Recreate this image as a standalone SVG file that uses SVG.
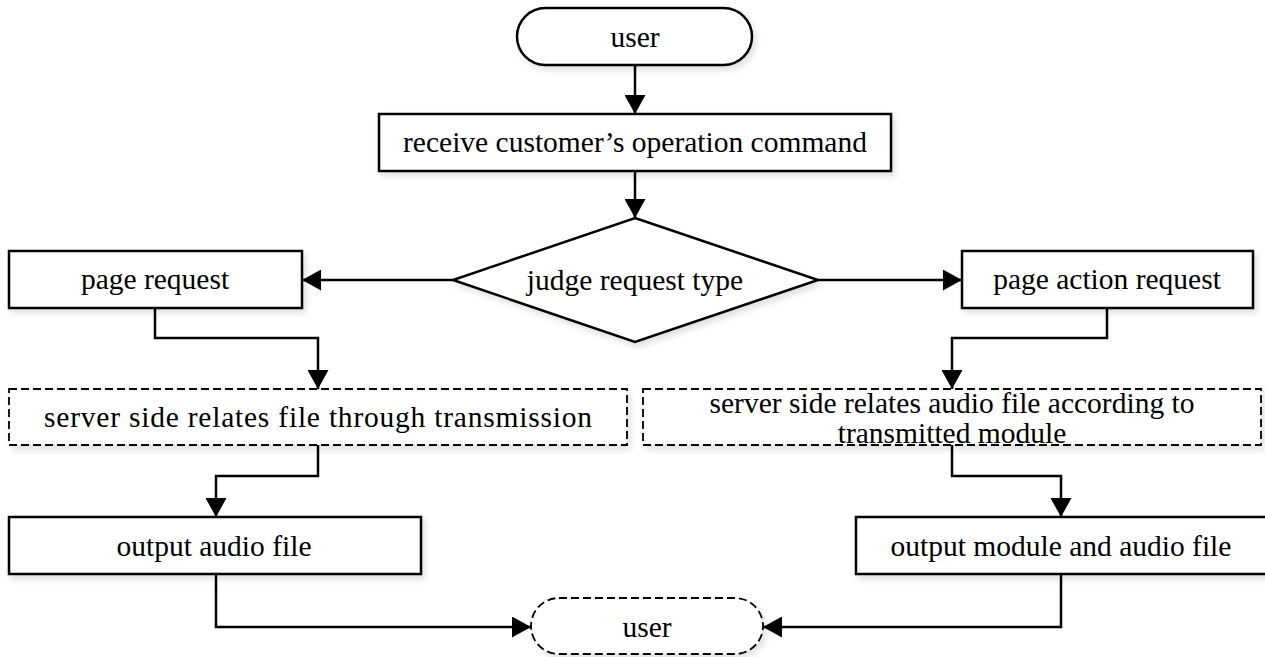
<svg xmlns="http://www.w3.org/2000/svg" width="1265" height="657" viewBox="0 0 1265 657">
<defs>
<style>
.box{fill:#fff;stroke:#000;stroke-width:2.5;filter:url(#sh)}
.dash{fill:#fff;stroke:#000;stroke-width:1.8;stroke-dasharray:8 4;filter:url(#sh)}
.t{font-family:"Liberation Serif","Times New Roman",serif;font-size:29.5px;fill:#000;text-anchor:middle;dominant-baseline:central}
.c{fill:none;stroke:#000;stroke-width:2.5;marker-end:url(#ah)}
</style>
<filter id="sh" x="-5%" y="-20%" width="115%" height="150%">
<feDropShadow dx="3" dy="4" stdDeviation="3" flood-color="#000" flood-opacity="0.12"/>
</filter>
<marker id="ah" markerUnits="userSpaceOnUse" markerWidth="19" markerHeight="21" refX="19" refY="10.5" orient="auto">
<path d="M0,0 L19,10.5 L0,21 z" fill="#000"/>
</marker>
</defs>
<rect width="1265" height="657" fill="#fff"/>
<g id="connectors">
<path class="c" d="M635 65 V114"/>
<path class="c" d="M635 171 V218"/>
<path class="c" d="M453 280 H302"/>
<path class="c" d="M818 280 H962"/>
<path class="c" d="M155 308 V338 H318 V389"/>
<path class="c" d="M1107 308 V338 H952 V389"/>
<path class="c" d="M318 445 V476 H216 V517"/>
<path class="c" d="M952 445 V476 H1061 V517"/>
<path class="c" d="M216 574 V627 H531"/>
<path class="c" d="M1061 574 V627 H763"/>
</g>
<g id="user-top">
<rect class="box" x="517" y="8" width="235" height="57" rx="28.5"/>
<text class="t" x="635" y="37">user</text>
</g>
<g id="receive">
<rect class="box" x="379" y="114" width="512" height="57"/>
<text class="t" x="635" y="142">receive customer’s operation command</text>
</g>
<g id="judge">
<polygon class="box" points="635,218 818,280 635,342 453,280"/>
<text class="t" x="635" y="280">judge request type</text>
</g>
<g id="page-request">
<rect class="box" x="9" y="251" width="293" height="57"/>
<text class="t" x="155" y="279">page request</text>
</g>
<g id="page-action-request">
<rect class="box" x="962" y="251" width="291" height="57"/>
<text class="t" x="1107" y="279">page action request</text>
</g>
<g id="server-left">
<rect class="dash" x="9" y="389" width="618" height="56"/>
<text class="t" x="318" y="417" textLength="548" lengthAdjust="spacing">server side relates file through transmission</text>
</g>
<g id="server-right">
<rect class="dash" x="643" y="389" width="618" height="56"/>
<text class="t" x="952" y="403">server side relates audio file according to</text>
<text class="t" x="952" y="433">transmitted module</text>
</g>
<g id="output-audio">
<rect class="box" x="9" y="517" width="412" height="57"/>
<text class="t" x="214" y="546">output audio file</text>
</g>
<g id="output-module">
<rect class="box" x="856" y="517" width="411" height="57"/>
<text class="t" x="1061" y="546">output module and audio file</text>
</g>
<g id="user-bottom">
<rect class="dash" x="531" y="598" width="232" height="56" rx="28"/>
<text class="t" x="647" y="627">user</text>
</g>
</svg>
